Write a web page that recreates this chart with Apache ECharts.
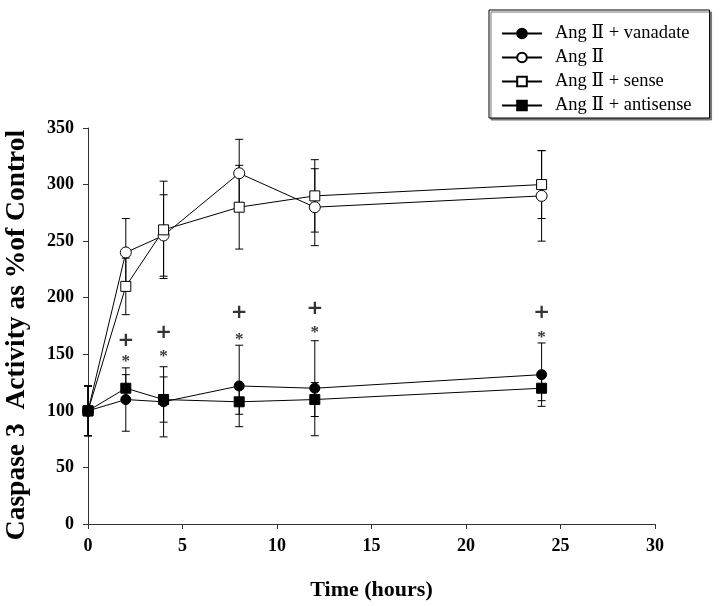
<!DOCTYPE html>
<html>
<head>
<meta charset="utf-8">
<script src="https://cdn.jsdelivr.net/npm/echarts@6/dist/echarts.min.js"></script>
<style>html,body{margin:0;padding:0;background:#fff}#chart{width:720px;height:606px}</style>
</head>
<body>
<div id="chart"></div>
<script>
// Time points (hours)
const hours = [0, 2, 4, 8, 12, 24];
// Series means (% of control)
const vanadate = [100, 110, 108, 122, 120, 132];
const angII = [100, 240, 255, 310, 280, 290];
const sense = [100, 210, 260, 280, 290, 300];
const antisense = [100, 120, 110, 108, 110, 120];
// Error (± SD) per series
const vanadateErr = [22, 28, 31, 36, 42, 28];
const angIIErr = [22, 30, 36, 30, 34, 40];
const senseErr = [22, 25, 43, 37, 32, 30];
const antisenseErr = [22, 12, 20, 11, 15, 11];
// Significance markers
const markHours = [2, 4, 8, 12, 24];
const plusY = [162, 169, 187, 190, 187];
const starY = [146, 151, 166, 172, 167];
// Axis ticks
const xTicks = { min: 0, max: 30, interval: 5 };
const yTicks = { min: 0, max: 350, interval: 50 };

const FONT = '"Liberation Serif", "DejaVu Serif", serif';

function pts(vals) { return hours.map((h, i) => [h, vals[i]]); }
function errData(vals, errs) { return hours.map((h, i) => [h, vals[i] - errs[i], vals[i] + errs[i]]); }

function errSeries(vals, errs) {
  return {
    type: 'custom',
    z: 1,
    silent: true,
    data: errData(vals, errs),
    encode: { x: 0, y: [1, 2] },
    renderItem: function (params, api) {
      const x = api.value(0);
      const lo = api.coord([x, api.value(1)]);
      const hi = api.coord([x, api.value(2)]);
      const w = 4;
      const st = { stroke: '#000', lineWidth: 1 };
      return {
        type: 'group',
        children: [
          { type: 'line', shape: { x1: lo[0], y1: lo[1], x2: hi[0], y2: hi[1] }, style: st },
          { type: 'line', shape: { x1: lo[0] - w, y1: lo[1], x2: lo[0] + w, y2: lo[1] }, style: st },
          { type: 'line', shape: { x1: hi[0] - w, y1: hi[1], x2: hi[0] + w, y2: hi[1] }, style: st }
        ]
      };
    }
  };
}

function lineSeries(name, vals, symbol, size, fill) {
  return {
    name: name,
    type: 'line',
    z: 3,
    data: pts(vals),
    symbol: symbol,
    symbolSize: size,
    showAllSymbol: true,
    lineStyle: { color: '#000', width: 1 },
    itemStyle: { color: fill, borderColor: '#000', borderWidth: 1 },
    emphasis: { disabled: true },
    animation: false
  };
}

function textSeries(ys, txt, size, family, weight, offY) {
  return {
    type: 'scatter',
    z: 4,
    silent: true,
    symbolSize: 1,
    itemStyle: { color: 'rgba(0,0,0,0)' },
    data: markHours.map((h, i) => [h, ys[i]]),
    label: {
      show: true, position: 'inside', formatter: txt,
      color: '#000', fontSize: size, fontFamily: family, fontWeight: weight, offset: [0, offY]
    }
  };
}

const chart = echarts.init(document.getElementById('chart'), null, { renderer: 'canvas' });
chart.setOption({
  animation: false,
  backgroundColor: '#fff',
  grid: { left: 88, right: 65, top: 128, bottom: 82, containLabel: false, outerBoundsMode: 'none' },
  legend: {
    left: 489, top: 10,
    orient: 'vertical',
    data: ['Ang Ⅱ + vanadate', 'Ang Ⅱ', 'Ang Ⅱ + sense', 'Ang Ⅱ + antisense'],
    itemWidth: 40, itemHeight: 12, itemGap: 5,
    padding: [14, 18, 3, 12],
    borderColor: '#000', borderWidth: 1,
    shadowColor: '#777', shadowOffsetX: 2, shadowOffsetY: 2, shadowBlur: 0,
    backgroundColor: '#fff',
    textStyle: { fontFamily: FONT, fontSize: 18.5, color: '#000', padding: [0, 0, 0, 8] }
  },
  xAxis: {
    type: 'value', min: xTicks.min, max: xTicks.max, interval: xTicks.interval,
    name: 'Time (hours)', nameLocation: 'middle', nameGap: 55,
    nameTextStyle: { fontFamily: FONT, fontSize: 22, fontWeight: 'bold', color: '#000' },
    axisLine: { lineStyle: { color: '#333', width: 1 } },
    axisTick: { show: true, length: 5, lineStyle: { color: '#333' } },
    axisLabel: { fontFamily: FONT, fontSize: 18, fontWeight: 'bold', color: '#000', margin: 13 },
    splitLine: { show: false }
  },
  yAxis: {
    type: 'value', min: yTicks.min, max: yTicks.max, interval: yTicks.interval,
    name: 'Caspase 3  Activity as %of Control', nameLocation: 'middle', nameGap: 57,
    nameTextStyle: { fontFamily: FONT, fontSize: 27.5, fontWeight: 'bold', color: '#000', padding: [0, 18, 0, 0] },
    axisLine: { show: true, lineStyle: { color: '#333', width: 1 } },
    axisTick: { show: true, length: 5, lineStyle: { color: '#333' } },
    axisLabel: { fontFamily: FONT, fontSize: 18, fontWeight: 'bold', color: '#000', margin: 14 },
    splitLine: { show: false }
  },
  series: [
    errSeries(vanadate, vanadateErr),
    errSeries(angII, angIIErr),
    errSeries(sense, senseErr),
    errSeries(antisense, antisenseErr),
    lineSeries('Ang Ⅱ + vanadate', vanadate, 'circle', 10, '#000'),
    lineSeries('Ang Ⅱ', angII, 'circle', 11, '#fff'),
    lineSeries('Ang Ⅱ + sense', sense, 'rect', 10, '#fff'),
    lineSeries('Ang Ⅱ + antisense', antisense, 'rect', 10, '#000'),
    textSeries(plusY, '+', 20, '"DejaVu Sans", sans-serif', 'bold', 0),
    textSeries(starY, '*', 17, FONT, 'bold', 3)
  ]
});
</script>
</body>
</html>
